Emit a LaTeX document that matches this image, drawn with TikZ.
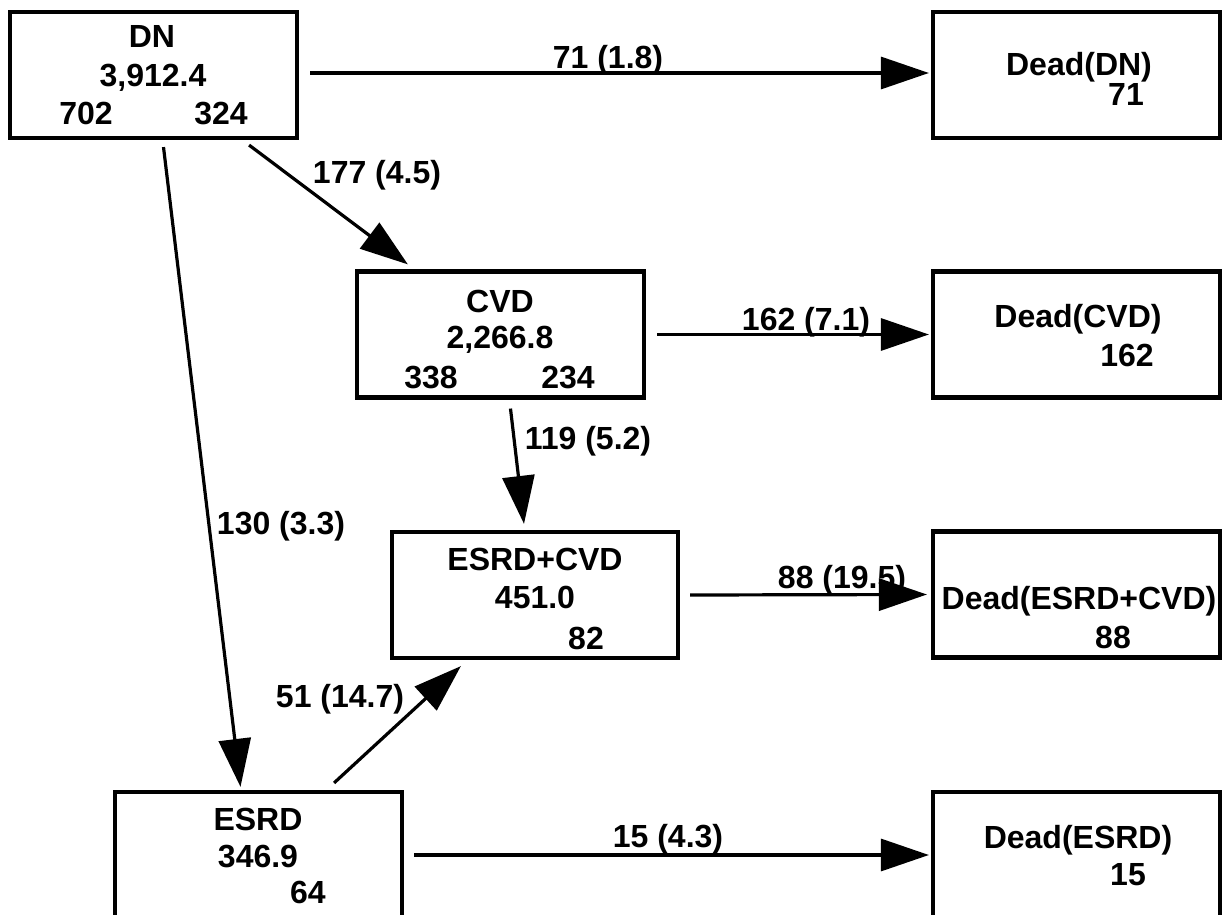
\documentclass[tikz,border=0pt]{standalone}
\usepackage{fontspec}
\setmainfont{Liberation Sans}
\usetikzlibrary{arrows.meta,calc}
\begin{document}
\begin{tikzpicture}[x=0.5pt,y=-0.5pt,
  every node/.style={font=\fontsize{16}{19}\selectfont\bfseries},
  box/.style={draw,line width=2.1pt,inner sep=0pt,minimum width=143.5pt,minimum height=63pt},
  txt/.style={anchor=base,inner sep=0pt},
  arr/.style={line width=1.6pt,-{Triangle[length=24pt,width=16pt]}}]
\useasboundingbox (0,0) rectangle (1222,915);
\clip (0,0) rectangle (1222,915);
% boxes
\node[box] (DN) at (153.5,75) {};
\node[box] (deadDN) at (1076.5,75) {};
\node[box] (CVD) at (500.5,334.5) {};
\node[box] (deadCVD) at (1076.5,334.5) {};
\node[box,minimum width=143pt] (EC) at (535,595) {};
\node[box] (deadEC) at (1076.5,594.5) {};
\node[box,minimum height=74pt] (ESRD) at (258.5,866) {};
\node[box,minimum height=74pt] (deadESRD) at (1076.5,866) {};
% box texts
\node[txt] (tDN1) at (152,48) {DN};
\node[txt] (tDN2) at (153,87) {3,912.4};
\node[txt] (tDN3) at (86,125) {702};
\node[txt] (tDN4) at (221,125) {324};
\node[txt] (tCVD1) at (500,312) {CVD};
\node[txt] (tCVD2) at (500,348) {2,266.8};
\node[txt] (tCVD3) at (431,388) {338};
\node[txt] (tCVD4) at (568,388) {234};
\node[txt] (tEC1) at (535,570) {ESRD+CVD};
\node[txt] (tEC2) at (535,608) {451.0};
\node[txt] (tEC3) at (586,649) {82};
\node[txt] (tES1) at (258,830) {ESRD};
\node[txt] (tES2) at (258,867) {346.9};
\node[txt] (tES3) at (308,903) {64};
\node[txt] (tdDN1) at (1079,76) {Dead(DN)};
\node[txt] (tdDN2) at (1126,106) {71};
\node[txt] (tdCVD1) at (1078,328) {Dead(CVD)};
\node[txt] (tdCVD2) at (1127,366) {162};
\node[txt] (tdEC1) at (1079,609) {Dead(ESRD+CVD)};
\node[txt] (tdEC2) at (1113,648) {88};
\node[txt] (tdES1) at (1078,848) {Dead(ESRD)};
\node[txt] (tdES2) at (1128,885) {15};
% arrows
\draw[arr] ($(DN.east)+(11,-2)$) -- ($(deadDN.west)+(-2,-2)$);
\draw[arr] ($(DN.south east)+(-50,5)$) -- ($(CVD.north west)+(53,-5)$);
\draw[arr] ($(DN.south)+(10,7)$) -- ($(ESRD.north)+(-18,-3)$);
\draw[arr] ($(CVD.east)+(11,0)$) -- ($(deadCVD.west)+(-2,0)$);
\draw[arr] ($(CVD.south)+(10,9)$) -- ($(EC.north)+(-11,-6)$);
\draw[arr] ($(EC.east)+(10,0)$) -- ($(deadEC.west)+(-4,0)$);
\draw[arr] ($(ESRD.north east)+(-70,-7)$) -- ($(EC.south west)+(71,6)$);
\draw[arr] ($(ESRD.east)+(10,-11)$) -- ($(deadESRD.west)+(-2,-11)$);
% arrow labels
\node[txt] (l1) at (608,69) {71 (1.8)};
\node[txt] (l2) at (377,184) {177 (4.5)};
\node[txt] (l3) at (281,534) {130 (3.3)};
\node[txt] (l4) at (806,330) {162 (7.1)};
\node[txt] (l5) at (588,449) {119 (5.2)};
\node[txt] (l6) at (842,588) {88 (19.5)};
\node[txt] (l7) at (340,707) {51 (14.7)};
\node[txt] (l8) at (668,847) {15 (4.3)};
\end{tikzpicture}
\end{document}
